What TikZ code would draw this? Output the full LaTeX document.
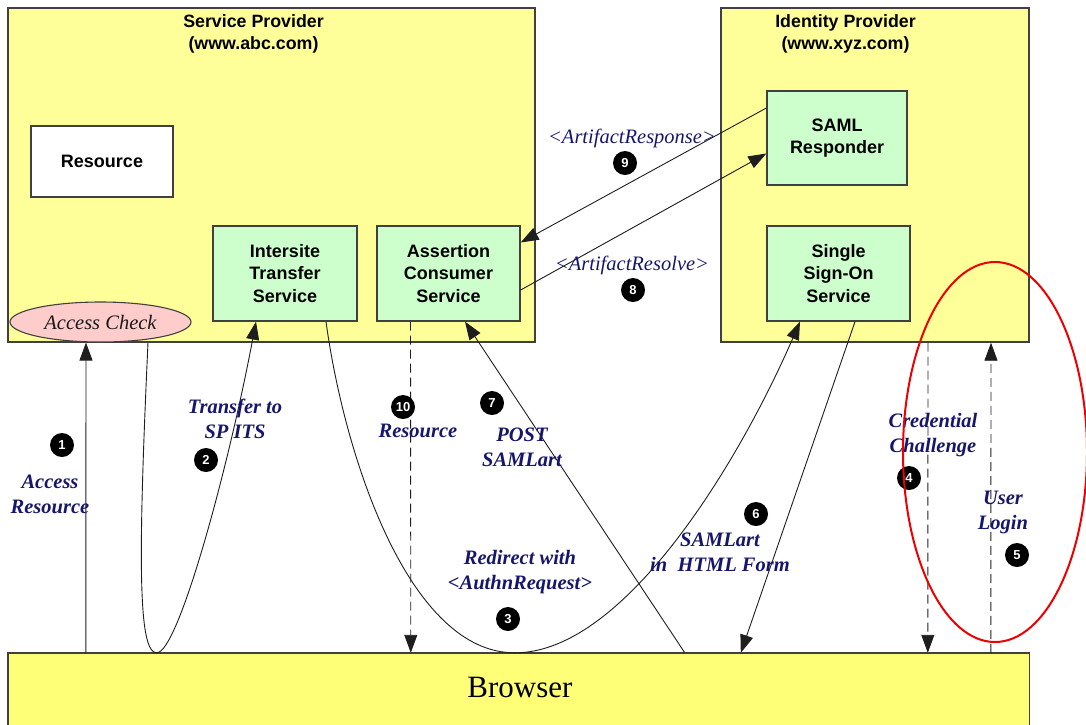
\documentclass[tikz,border=0pt]{standalone}
\usepackage{fontspec}
\setmainfont{Liberation Serif}
\setsansfont{Liberation Sans}
\usetikzlibrary{arrows.meta,shapes.geometric,calc}

\definecolor{spyellow}{RGB}{255,255,153}
\definecolor{brwyellow}{RGB}{255,255,119}
\definecolor{svcgreen}{RGB}{204,255,204}
\definecolor{chkpink}{RGB}{255,204,204}
\definecolor{flownavy}{RGB}{22,22,108}
\definecolor{edgegray}{RGB}{64,64,64}
\definecolor{linegray}{RGB}{30,30,30}
\definecolor{ringred}{RGB}{236,0,0}

\begin{document}
\begin{tikzpicture}[x=1pt,y=-1pt,
  provider/.style={draw=edgegray, line width=1.4pt, fill=spyellow, rectangle, inner sep=0pt},
  service/.style={draw=edgegray, line width=1.3pt, fill=svcgreen, rectangle, inner sep=0pt,
    align=center, font=\sffamily\bfseries\fontsize{18}{22.5}\selectfont},
  ptitle/.style={align=center, inner sep=0pt, font=\sffamily\bfseries\fontsize{17.8}{22}\selectfont},
  flow/.style={draw=linegray, line width=0.9pt, -{Triangle[length=18pt,width=13pt]}},
  dflow/.style={flow, dash pattern=on 9pt off 5pt},
  lbl/.style={align=center, inner sep=0pt, text=flownavy,
    font=\rmfamily\bfseries\itshape\fontsize{20.5}{25}\selectfont},
  msg/.style={align=center, inner sep=0pt, text=flownavy,
    font=\rmfamily\itshape\fontsize{20.5}{25}\selectfont},
  numdot/.style={circle, fill=black, minimum size=24pt, inner sep=0pt, text=white,
    font=\sffamily\bfseries\fontsize{13}{13}\selectfont}
]
\useasboundingbox (0,0) rectangle (1086,724);

% providers
\node[provider, minimum width=527, minimum height=334] (sp) at (271.5,175) {};
\node[provider, minimum width=308, minimum height=334] (idp) at (875,175) {};
\node[ptitle] (sptitle) at (253.5,34) {Service Provider\\(www.abc.com)};
\node[ptitle] (idptitle) at (845.5,34) {Identity Provider\\(www.xyz.com)};

% services
\node[service, fill=white, minimum width=142, minimum height=71] (res) at (102,161.5) {Resource};
\node[service, minimum width=144, minimum height=95] (its) at (285,273.5) {Intersite\\Transfer\\Service};
\node[service, minimum width=143, minimum height=95] (acs) at (448.5,273.5) {Assertion\\Consumer\\Service};
\node[service, minimum width=140, minimum height=94] (saml) at (837,138) {SAML\\Responder};
\node[service, minimum width=143, minimum height=95] (sso) at (838.5,273.5) {Single\\Sign-On\\Service};
\node[ellipse, draw=edgegray, line width=1.1pt, fill=chkpink, minimum width=181, minimum height=40,
  inner sep=0pt, text=black!90, font=\rmfamily\itshape\fontsize{20.5}{25}\selectfont]
  (acheck) at (100.5,322) {Access Check};

% browser
\node[fill=brwyellow, minimum width=1021, minimum height=87, inner sep=0pt] (browser) at (518.5,696.5) {};
\draw[edgegray, line width=1.4pt] (browser.south west) -- (browser.north west)
  -- (browser.north east) -- (browser.south east);
\node[font=\rmfamily\fontsize{31}{31}\selectfont, inner sep=0pt] (browsertext) at (520,687) {Browser};

% message flows
\draw[flow] ($(browser.north west)+(78,0)$) -- ($(acheck.south)+(-14.5,0)$);
\draw[flow] ($(acheck.south)+(47.5,0)$) .. controls (138,560) and (138,653) .. ($(browser.north west)+(149,0)$)
  .. controls (178,653) and (228,470) .. ($(its.south)+(-29,0)$);
\draw[flow] ($(its.south)+(41,0)$) .. controls (345,460) and (410,653) .. ($(browser.north west)+(507,0)$)
  .. controls (625,653) and (740,460) .. ($(sso.south)+(-38.5,0)$);
\draw[dflow] ($(idp.south)+(53,0)$) -- ($(browser.north west)+(920,0)$);
\draw[dflow] ($(browser.north west)+(983,0)$) -- ($(idp.south)+(116,0)$);
\draw[flow] ($(sso.south)+(16.5,0)$) -- ($(browser.north west)+(733,0)$);
\draw[flow] ($(browser.north west)+(677,0)$) -- ($(acs.south)+(16.5,0)$);
\draw[flow] ($(acs.east)+(0,16.5)$) -- ($(saml.west)+(0,15.5)$);
\draw[flow] ($(saml.west)+(0,-30)$) -- ($(acs.east)+(0,-31)$);
\draw[dflow] ($(acs.south)+(-38,0)$) -- ($(browser.north west)+(403,0)$);

% step labels
\node[numdot] (n1) at (62,445) {1};
\node[lbl] (l1) at (50,494.5) {Access\\Resource};
\node[numdot] (n2) at (206,460) {2};
\node[lbl] (l2) at (235,418.5) {Transfer to\\SP ITS};
\node[numdot] (n3) at (508,619) {3};
\node[lbl] (l3) at (520,572.5) {Redirect with\\<AuthnRequest>};
\node[numdot] (n4) at (909,478) {4};
\node[lbl] (l4) at (933,435.5) {Credential\\Challenge};
\node[numdot] (n5) at (1017,555) {5};
\node[lbl] (l5) at (1003,512.5) {User\\Login};
\node[numdot] (n6) at (756,514) {6};
\node[lbl] (l6) at (720,552) {SAMLart\\in\ \ HTML Form};
\node[numdot] (n7) at (492,403) {7};
\node[lbl] (l7) at (522,447) {POST\\SAMLart};
\node[numdot] (n8) at (633,290) {8};
\node[msg] (l8) at (632,265) {<ArtifactResolve>};
\node[numdot] (n9) at (625,163) {9};
\node[msg] (l9) at (632,138) {<ArtifactResponse>};
\node[numdot] (n10) at (403,407) {10};
\node[lbl] (l10) at (418,431) {Resource};

% highlight ring around the login exchange
\draw[ringred, line width=2pt] (995,452) ellipse [x radius=92, y radius=190];
\end{tikzpicture}
\end{document}
